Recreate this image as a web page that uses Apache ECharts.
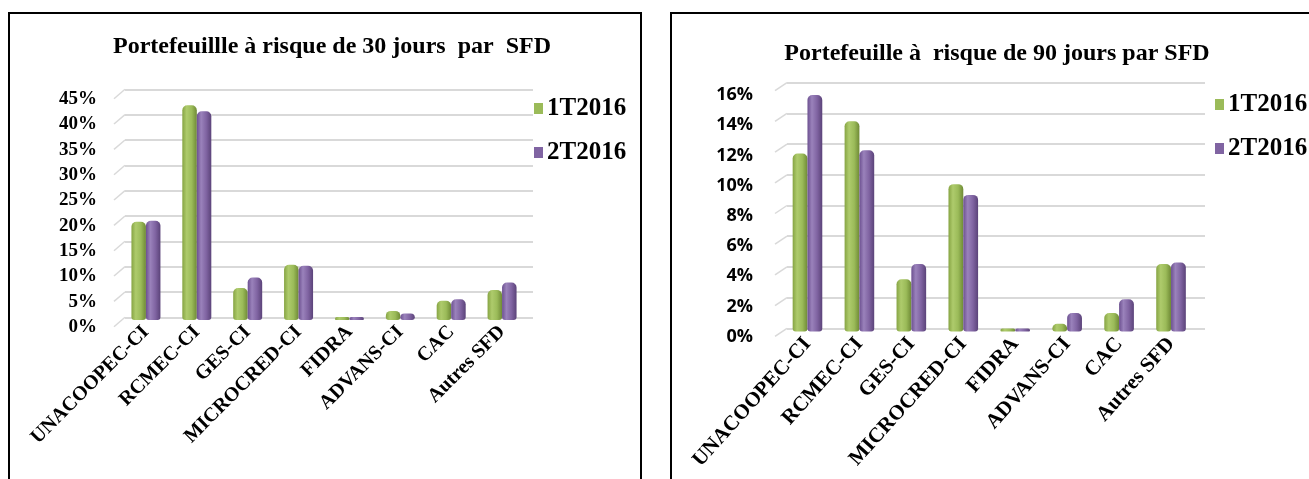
<!DOCTYPE html>
<html>
<head>
<meta charset="utf-8">
<script src="https://cdn.jsdelivr.net/npm/echarts@6/dist/echarts.min.js"></script>
<style>html,body{margin:0;padding:0;background:#fff}#c{width:1309px;height:479px}</style>
</head>
<body>
<div id="c"></div>
<script>
// ---- data ----
var categories = ['UNACOOPEC-CI', 'RCMEC-CI', 'GES-CI', 'MICROCRED-CI', 'FIDRA', 'ADVANS-CI', 'CAC', 'Autres SFD'];
var seriesNames = ['1T2016', '2T2016'];
var par30_1T = [19.4, 42.4, 6.3, 10.9, 0.1, 1.8, 3.8, 5.9];
var par30_2T = [19.6, 41.2, 8.4, 10.7, 0.1, 1.3, 4.1, 7.4];
var par90_1T = [11.6, 13.7, 3.4, 9.6, 0.05, 0.5, 1.2, 4.4];
var par90_2T = [15.4, 11.8, 4.4, 8.9, 0.05, 1.2, 2.1, 4.5];
var ticks30 = [0, 5, 10, 15, 20, 25, 30, 35, 40, 45];
var ticks90 = [0, 2, 4, 6, 8, 10, 12, 14, 16];
var title30 = 'Portefeuillle à risque de 30 jours  par  SFD';
var title90 = 'Portefeuille à  risque de 90 jours par SFD';

// ---- styles ----
var GREEN = '#9bbb59', PURPLE = '#8064a2';
function cyl(c0, c1, c2, c3) {
  return new echarts.graphic.LinearGradient(0, 0, 1, 0, [
    {offset: 0, color: c0}, {offset: 0.3, color: c1}, {offset: 0.65, color: c2}, {offset: 1, color: c3}
  ]);
}
var greenFill = cyl('#86a443', '#aecb6c', '#9bbb59', '#6f8a36');
var purpleFill = cyl('#6c5090', '#9a82bb', '#8064a2', '#5b4379');
var serif = 'Liberation Serif, Times New Roman, serif';

function diag(dx, dy) {
  return function (params, api) {
    var p = api.coord([0, api.value(1)]);
    return {type: 'line', shape: {x1: p[0] + dx, y1: p[1] + dy, x2: p[0], y2: p[1]},
      style: {stroke: '#d9d9d9', lineWidth: 1.5}};
  };
}
function pts(t) { return t.map(function (v) { return [0, v]; }); }

var hiddenX = function (g) { return {type: 'value', gridIndex: g, min: 0, max: 1, show: false}; };
var catX = function (g, size, rot) {
  return {type: 'category', gridIndex: g, data: categories,
    axisLine: {show: false}, axisTick: {show: false},
    axisLabel: {interval: 0, rotate: rot, margin: 9, color: '#000',
      fontFamily: serif, fontWeight: 'bold', fontSize: size}};
};
var backY = function (g, max, step) {
  return {type: 'value', gridIndex: g, min: 0, max: max, interval: step,
    axisLine: {show: false}, axisTick: {show: false}, axisLabel: {show: false},
    splitLine: {show: true, lineStyle: {color: '#d9d9d9', width: 2}}};
};
var labelY = function (g, max, step, font, size) {
  return {type: 'value', gridIndex: g, min: 0, max: max, interval: step,
    axisLine: {show: false}, axisTick: {show: false}, splitLine: {show: false},
    axisLabel: {formatter: '{value}%', color: '#000', fontFamily: font, fontWeight: 'bold', fontSize: size, margin: 8}};
};
var barY = function (g, max) { return {type: 'value', gridIndex: g, min: 0, max: max, show: false}; };

function bar(name, data, xi, fill) {
  return {type: 'bar', name: name, data: data, xAxisIndex: xi, yAxisIndex: xi,
    barGap: '0%', barCategoryGap: '43%', barMinHeight: 3,
    itemStyle: {color: fill, borderRadius: [5, 5, 3, 3]}};
}

var legendCommon = {orient: 'vertical', itemGap: 19, itemWidth: 9, itemHeight: 11, icon: 'rect',
  selectedMode: false,
  textStyle: {fontFamily: serif, fontWeight: 'bold', fontSize: 25, color: '#000', padding: [0, 0, 0, -1]},
  data: [{name: seriesNames[0], itemStyle: {color: GREEN}}, {name: seriesNames[1], itemStyle: {color: PURPLE}}]};

var option = {
  animation: false,
  backgroundColor: '#fff',
  title: [
    {text: title30, left: 327, top: 42, textAlign: 'center', textVerticalAlign: 'middle',
      textStyle: {fontFamily: serif, fontWeight: 'bold', fontSize: 24, color: '#000'}},
    {text: title90, left: 992, top: 49, textAlign: 'center', textVerticalAlign: 'middle',
      textStyle: {fontFamily: serif, fontWeight: 'bold', fontSize: 24, color: '#000'}}
  ],
  legend: [
    Object.assign({}, legendCommon, {left: 529, top: 91}),
    Object.assign({}, legendCommon, {left: 1210, top: 87})
  ],
  grid: [
    {left: 125, top: 89.3, width: 408, height: 228},
    {left: 105, top: 99, width: 10, height: 228},
    {left: 120.5, top: 92, width: 407, height: 228},
    {left: 787, top: 82.7, width: 418, height: 245.6},
    {left: 761, top: 95, width: 10, height: 241.7},
    {left: 781.5, top: 85.9, width: 415.5, height: 245.6}
  ],
  xAxis: [hiddenX(0), hiddenX(1), catX(2, 20, 45), hiddenX(3), hiddenX(4), catX(5, 21, 48)],
  yAxis: [
    backY(0, 45, 5), labelY(1, 45, 5, serif, 19), barY(2, 45),
    backY(3, 16, 2), labelY(4, 16, 2, 'Open Sans, sans-serif', 18), barY(5, 16)
  ],
  series: [
    {type: 'custom', xAxisIndex: 0, yAxisIndex: 0, data: pts(ticks30), renderItem: diag(-11, 9.4), silent: true},
    {type: 'custom', xAxisIndex: 3, yAxisIndex: 3, data: pts(ticks90), renderItem: diag(-12, 8), silent: true},
    bar(seriesNames[0], par30_1T, 2, greenFill),
    bar(seriesNames[1], par30_2T, 2, purpleFill),
    bar(seriesNames[0], par90_1T, 5, greenFill),
    bar(seriesNames[1], par90_2T, 5, purpleFill)
  ],
  graphic: [
    {type: 'rect', shape: {x: 9, y: 13, width: 632, height: 490}, style: {fill: 'none', stroke: '#000', lineWidth: 2}, z: 100},
    {type: 'rect', shape: {x: 671, y: 13, width: 680, height: 490}, style: {fill: 'none', stroke: '#000', lineWidth: 2}, z: 100}
  ]
};
var chart = echarts.init(document.getElementById('c'), null, {renderer: 'canvas'});
chart.setOption(option);
</script>
</body>
</html>
